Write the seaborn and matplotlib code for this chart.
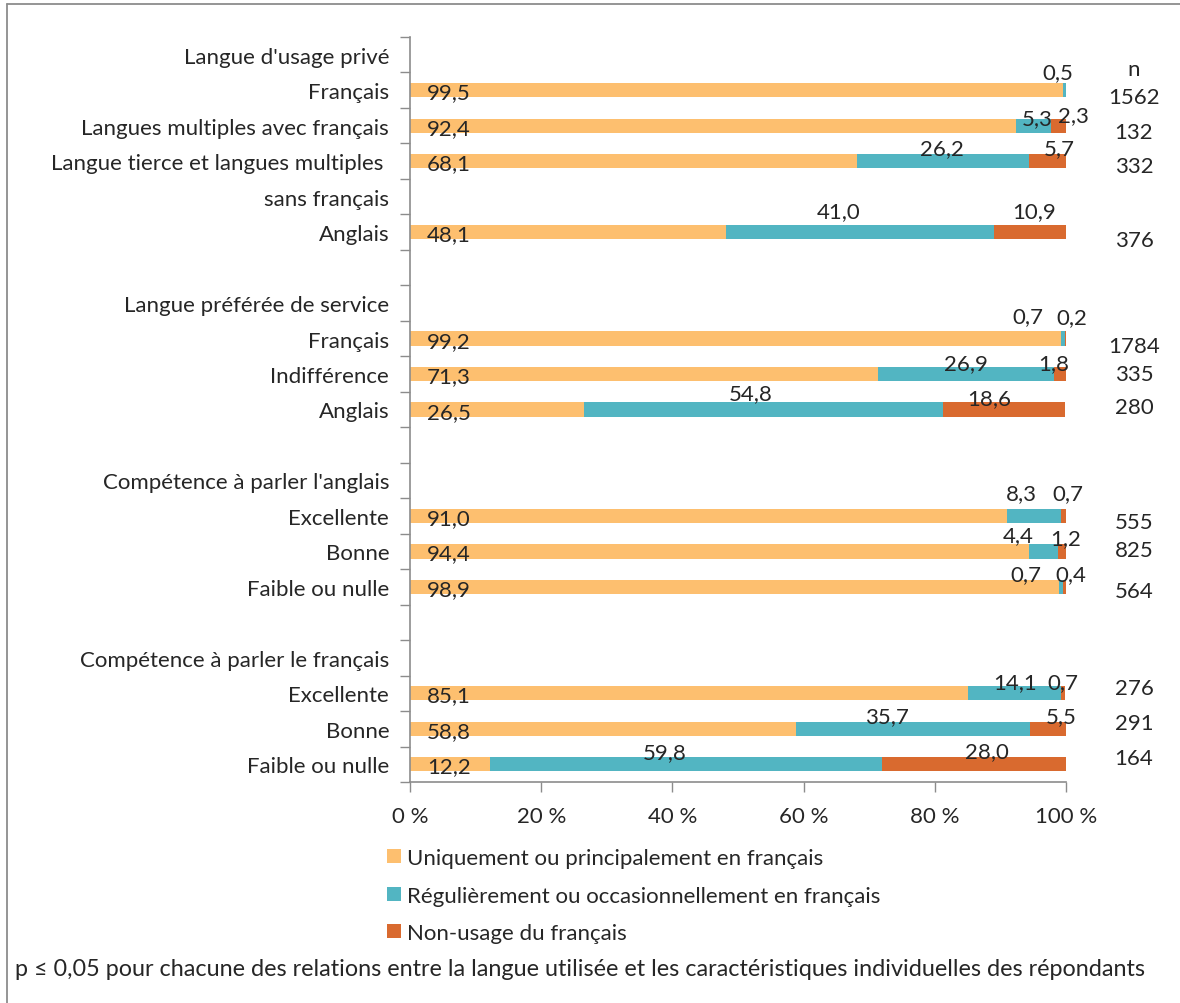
import numpy as np
import pandas as pd
import matplotlib
matplotlib.use("Agg")
import matplotlib.pyplot as plt
import matplotlib.patches as mpatches
import matplotlib.transforms as mtransforms
from matplotlib.lines import Line2D
import seaborn as sns

nan = np.nan

# ── data ─────────────────────────────────────────────────────────────────────
row_labels = [
    "Langue d'usage privé", "Français", "Langues multiples avec français",
    "Langue tierce et langues multiples ", "sans français", "Anglais", "",
    "Langue préférée de service", "Français", "Indifférence", "Anglais", "",
    "Compétence à parler l'anglais", "Excellente", "Bonne", "Faible ou nulle", "",
    "Compétence à parler le français", "Excellente", "Bonne", "Faible ou nulle",
]

uniquement = [nan, 99.5, 92.4, 68.1, nan, 48.1, nan, nan, 99.2, 71.3, 26.5,
              nan, nan, 91.0, 94.4, 98.9, nan, nan, 85.1, 58.8, 12.2]
regulierement = [nan, 0.5, 5.3, 26.2, nan, 41.0, nan, nan, 0.7, 26.9, 54.8,
                 nan, nan, 8.3, 4.4, 0.7, nan, nan, 14.1, 35.7, 59.8]
non_usage = [nan, nan, 2.3, 5.7, nan, 10.9, nan, nan, 0.2, 1.8, 18.6,
             nan, nan, 0.7, 1.2, 0.4, nan, nan, 0.7, 5.5, 28.0]
n_counts = ["", "1562", "132", "332", "", "376", "", "", "1784", "335", "280",
            "", "", "555", "825", "564", "", "", "276", "291", "164"]

legend_labels = [
    "Uniquement ou principalement en français",
    "Régulièrement ou occasionnellement en français",
    "Non-usage du français",
]
footnote = ("p ≤ 0,05 pour chacune des relations entre la langue utilisée "
            "et les caractéristiques individuelles des répondants")

# ── style ────────────────────────────────────────────────────────────────────
ORANGE = "#FDBF6F"
TEAL = "#52B5C2"
DARK = "#D96A2F"
GREY = "#8C8C8C"

# label nudges in pixels: (teal dx, teal dy, dark dx, dark dy)
nudge = {
    1: (-7, 5, 0, 0), 2: (4, -5, 15, -2), 3: (-1, 0, 12, 0), 5: (-21, 8, 4, 8),
    8: (-35, 9, 6, 8), 9: (0, -2, -6, -2), 10: (-13, 3, -15, -2),
    13: (-13, 10, 4, 10), 14: (-25, 3, 4, 0), 15: (-35, 0, 6, 0),
    18: (1, -2, 0, -2), 19: (-26, 0, 13, 0), 20: (-21, -1, 13, 0),
}
# vertical nudge of the n column, pixels downward
n_dy = {1: 7, 2: 6, 3: 5, 5: 8, 8: 7, 9: 0, 10: -2, 13: 6, 14: -1, 15: 4,
        18: -5, 19: -6, 20: -6}
PT = 0.72  # pixels -> points at 100 dpi

sns.set_style("ticks")
plt.rcParams.update({
    "font.family": ["Lato", "DejaVu Sans"],
    "font.size": 16,
})

df = pd.DataFrame({
    "row": [f"r{i}" for i in range(len(row_labels))],
    "u": uniquement, "r": regulierement, "n": non_usage,
})
df["cum_u"] = df["u"].fillna(0)
df["cum_r"] = df["cum_u"] + df["r"].fillna(0)
df["cum_n"] = df["cum_r"] + df["n"].fillna(0)

fig = plt.figure(figsize=(11.8, 10.04), dpi=100)
ax = fig.add_axes([410 / 1180, 1 - 783 / 1004, 656 / 1180, 745 / 1004])

# stacked bars: draw cumulative totals from the longest to the shortest
for col, color in [("cum_n", DARK), ("cum_r", TEAL), ("cum_u", ORANGE)]:
    sns.barplot(data=df, x=col, y="row", order=df["row"], orient="h",
                color=color, width=0.4, errorbar=None, linewidth=0,
                saturation=1, ax=ax)

ax.set_xlim(0, 100)
ax.set_ylim(len(row_labels) - 0.5, -0.5)
ax.set_xlabel("")
ax.set_ylabel("")

# y axis: tick marks between rows, labels centred on rows
ax.set_yticks(np.arange(-0.5, len(row_labels), 1))
ax.set_yticklabels([])
ax.set_yticks(np.arange(len(row_labels)), minor=True)
ax.set_yticklabels(row_labels, minor=True)
ax.tick_params(axis="y", which="major", length=7, width=1, color=GREY)
ax.tick_params(axis="y", which="minor", length=0, pad=15)

ax.set_xticks(range(0, 101, 20))
ax.set_xticklabels([f"{v} %" for v in range(0, 101, 20)])
ax.tick_params(axis="x", length=7, width=1, color=GREY, pad=10)

sns.despine(ax=ax)
for side in ("left", "bottom"):
    ax.spines[side].set_color(GREY)
    ax.spines[side].set_linewidth(1.2)


def fmt(v):
    return f"{v:.1f}".replace(".", ",")


for i, rec in df.iterrows():
    if not np.isnan(rec["u"]):
        ax.annotate(fmt(rec["u"]), xy=(0, i + 0.2), xytext=(17 * PT, -1 * PT),
                    textcoords="offset points", ha="left", va="baseline")
    tdx, tdy, ddx, ddy = nudge.get(i, (0, 0, 0, 0))
    if not np.isnan(rec["r"]):
        ax.annotate(fmt(rec["r"]), xy=(rec["cum_u"] + rec["r"] / 2, i - 0.2),
                    xytext=(tdx * PT, tdy * PT), textcoords="offset points",
                    ha="center", va="baseline")
    if not np.isnan(rec["n"]):
        ax.annotate(fmt(rec["n"]), xy=(rec["cum_r"] + rec["n"] / 2, i - 0.2),
                    xytext=(ddx * PT, ddy * PT), textcoords="offset points",
                    ha="center", va="baseline", annotation_clip=False)

# n column
trans = mtransforms.blended_transform_factory(ax.transAxes, ax.transData)
n_x = (1134 - 410) / 656
ax.annotate("n", xy=(n_x, 0), xycoords=trans, xytext=(0, -14 * PT),
            textcoords="offset points", ha="center", va="center",
            annotation_clip=False)
for i, n in enumerate(n_counts):
    if n:
        ax.annotate(n, xy=(n_x, i), xycoords=trans,
                    xytext=(0, -n_dy.get(i, 0) * PT), textcoords="offset points",
                    ha="center", va="center", annotation_clip=False)

handles = [mpatches.Patch(facecolor=c, edgecolor="none", label=l)
           for c, l in zip([ORANGE, TEAL, DARK], legend_labels)]
fig.legend(handles=handles, loc="upper left",
           bbox_to_anchor=(387 / 1180, 1 - 849 / 1004), frameon=False,
           handlelength=0.62, handleheight=0.62, handletextpad=0.3,
           labelspacing=0.79, borderpad=0, borderaxespad=0)

fig.text(15 / 1180, 1 - 970 / 1004, footnote, ha="left", va="center",
         fontsize=16.8)

# outer frame (top and left edges visible)
fig.add_artist(Line2D([7 / 1180, 1], [1 - 5 / 1004] * 2,
                      transform=fig.transFigure, color=GREY, lw=1.3))
fig.add_artist(Line2D([7 / 1180] * 2, [0, 1 - 5 / 1004],
                      transform=fig.transFigure, color=GREY, lw=1.3))

fig.savefig("out.png", dpi=100)
